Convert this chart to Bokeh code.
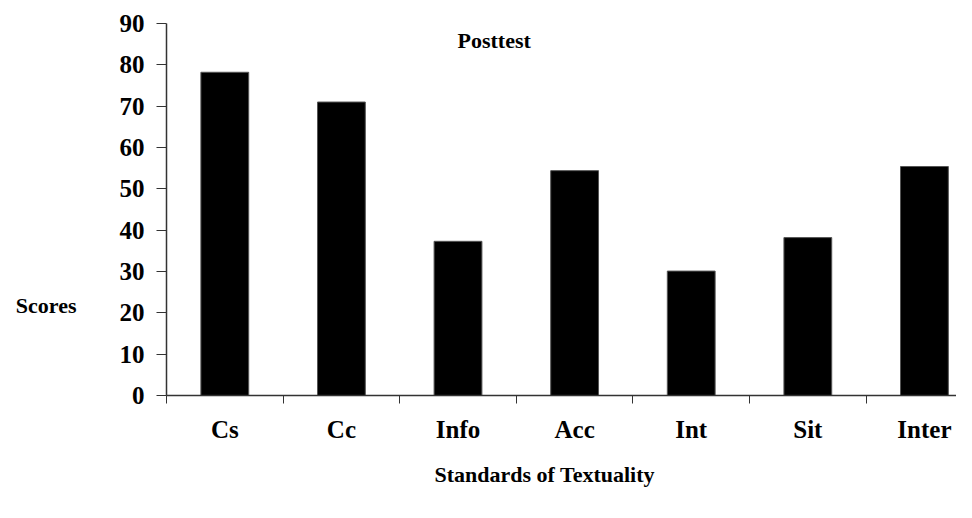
from bokeh.plotting import figure
from bokeh.models import FixedTicker, Range1d, Label, ColumnDataSource, LinearAxis, Title
from bokeh.embed import file_html
from bokeh.resources import INLINE

categories = ["Cs", "Cc", "Info", "Acc", "Int", "Sit", "Inter"]
scores = [78.2, 71.0, 37.3, 54.4, 30.1, 38.2, 55.4]
y_ticks = [0, 10, 20, 30, 40, 50, 60, 70, 80, 90]
y_title = "Scores"
x_title = "Standards of Textuality"
chart_title = "Posttest"

FONT = "Liberation Serif"
AXIS_COLOR = "#333333"

centers = [i + 0.5 for i in range(len(categories))]
bounds = list(range(len(categories) + 1))
src = ColumnDataSource(dict(x=centers, top=scores))

p = figure(width=956, height=502, output_backend="svg", toolbar_location=None,
           x_range=Range1d(0, 6.775), y_range=Range1d(0, 90),
           min_border_left=166, min_border_right=0, min_border_top=23, min_border_bottom=107)
p.outline_line_color = None
p.grid.visible = False
p.background_fill_color = "white"
p.border_fill_color = "white"

p.vbar(x="x", top="top", width=0.41, source=src, fill_color="black",
       line_color="#555555", line_width=1)

# x axis: labels at category centers, tick marks at category boundaries
xa = p.xaxis[0]
xa.ticker = FixedTicker(ticks=centers, minor_ticks=bounds)
xa.major_label_overrides = {c: lab for c, lab in zip(centers, categories)}
xa.major_tick_out = 0
xa.major_tick_in = 0
xa.minor_tick_out = 8
xa.minor_tick_in = 0
xa.minor_tick_line_color = AXIS_COLOR
xa.axis_line_color = AXIS_COLOR
xa.axis_line_width = 1.5
xa.major_label_standoff = 12
xa.major_label_text_font = FONT
xa.major_label_text_font_style = "bold"
xa.major_label_text_font_size = "25px"
xa.major_label_text_color = "black"

ya = p.yaxis[0]
ya.ticker = FixedTicker(ticks=y_ticks, minor_ticks=[])
ya.major_tick_out = 10
ya.major_tick_in = 0
ya.minor_tick_out = 0
ya.major_tick_line_color = AXIS_COLOR
ya.axis_line_color = AXIS_COLOR
ya.axis_line_width = 1.5
ya.major_label_standoff = 12
ya.major_label_text_font = FONT
ya.major_label_text_font_style = "bold"
ya.major_label_text_font_size = "25px"
ya.major_label_text_color = "black"

# "Scores" label sitting horizontally, left of the tick labels, below centre
p.extra_y_ranges = {"lab": Range1d(0, 90)}
score_axis = LinearAxis(y_range_name="lab", ticker=FixedTicker(ticks=[21.8], minor_ticks=[]),
                        major_label_overrides={21.8: y_title},
                        axis_line_color=None, major_tick_line_color=None,
                        major_tick_out=0, major_tick_in=0, minor_tick_out=0, minor_tick_in=0,
                        major_label_standoff=40, major_label_text_font=FONT,
                        major_label_text_font_style="bold", major_label_text_font_size="22px",
                        major_label_text_color="black")
p.add_layout(score_axis, "left")

p.add_layout(Title(text=x_title, align="left", offset=268, standoff=29,
                   text_font=FONT, text_font_style="bold", text_font_size="22px",
                   text_color="black"), "below")

p.add_layout(Label(x=291, y=355, x_units="screen", y_units="screen", text=chart_title,
                   text_font=FONT, text_font_style="bold", text_font_size="22px",
                   text_color="black", text_align="left", text_baseline="middle"))

open("out.html", "w").write(file_html(p, INLINE))
